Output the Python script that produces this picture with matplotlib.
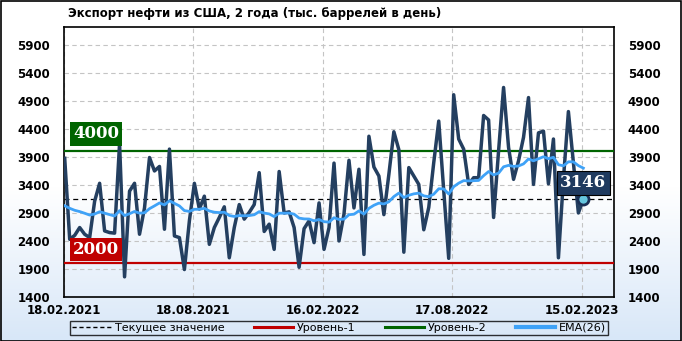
import matplotlib
matplotlib.use('Agg')
import matplotlib.pyplot as plt
import matplotlib.dates as mdates
from matplotlib.lines import Line2D
from matplotlib.patches import Rectangle
import numpy as np
import pandas as pd

# weekly US crude oil exports, thousand barrels per day
start_date = '2021-02-19'
exports = [3876, 2430, 2500, 2640, 2520, 2460, 3110, 3430, 2580, 2550,
           2540, 4140, 1760, 3290, 3430, 2520, 2990, 3890, 3650, 3730,
           2610, 4040, 2490, 2460, 1890, 2760, 3430, 2970, 3200, 2340,
           2640, 2820, 3010, 2100, 2640, 3050, 2790, 2910, 3050, 3620,
           2570, 2700, 2250, 3640, 2900, 2920, 2640, 1930, 2620, 2760,
           2370, 3080, 2250, 2640, 3790, 2400, 2880, 3840, 2990, 3680,
           2160, 4270, 3720, 3560, 2870, 3590, 4350, 4030, 2200, 3710,
           3560, 3410, 2600, 3000, 3800, 4540, 3300, 2090, 5010, 4220,
           4040, 3410, 3530, 3530, 4640, 4560, 2820, 4010, 5140, 4070,
           3500, 3830, 4250, 4960, 3410, 4330, 4360, 3420, 4220, 2100,
           3500, 4710, 3800, 2900, 3146]
ema_seed = 2960   # EMA value the week before the window
level1 = 2000
level2 = 4000
current = exports[-1]

title = 'Экспорт нефти из США, 2 года (тыс. баррелей в день)'
xtick_dates = ['2021-02-18', '2021-08-18', '2022-02-16', '2022-08-17', '2023-02-15']
yticks = list(range(1400, 6400, 500))

dates = pd.date_range(start_date, periods=len(exports), freq='7D')

# EMA(26)
alpha = 2 / 27
ema = []
prev = ema_seed
for v in exports:
    prev = prev + alpha * (v - prev)
    ema.append(prev)

W, H = 682, 341
fig = plt.figure(figsize=(W / 100, H / 100), dpi=100)

# gradient background
bg = fig.add_axes([0, 0, 1, 1], zorder=-10)
t = np.linspace(0, 1, 200)
k = np.clip((t - 0.55) / 0.45, 0, 1)
top = np.array([1.0, 1.0, 1.0])
bot = np.array([0xd8, 0xe7, 0xf8]) / 255
grad = top[None, :] * (1 - k[:, None]) + bot[None, :] * k[:, None]
bg.imshow(grad[:, None, :], aspect='auto', extent=[0, 1, 0, 1])
bg.set_axis_off()
fig.patches.append(Rectangle((0.5 / W, 0.5 / H), 1 - 1.5 / W, 1 - 1.5 / H,
                             transform=fig.transFigure, fill=False,
                             edgecolor='black', lw=1.2))

ax = fig.add_axes([64 / W, 1 - 297 / H, 550 / W, 270 / H])
ax.set_facecolor('none')

x0 = pd.Timestamp('2021-02-18')
ax.set_xlim(x0, x0 + pd.Timedelta(days=772))
ax.set_ylim(1400, 6220)

ax.axhline(level1, color='#c00000', lw=1.6, zorder=3)
ax.axhline(level2, color='#006400', lw=1.6, zorder=3)
ax.axhline(current, color='black', lw=0.9, ls=(0, (4, 3)), zorder=3)

ax.plot(dates, exports, color='#243f60', lw=2.5, zorder=4,
        solid_joinstyle='round')
ax.plot(dates, ema, color='#3fa2f7', lw=2.0, zorder=5)
ax.plot(dates[-1], current, 'o', ms=8, mfc='#66c6de', mec='#1a2f55',
        mew=2, zorder=6)

ax.set_yticks(yticks)
ax.set_xticks(pd.to_datetime(xtick_dates))
ax.xaxis.set_major_formatter(mdates.DateFormatter('%d.%m.%Y'))
ax.grid(True, color='#c4c4c4', ls=(0, (4, 3)), lw=0.8)
ax.set_axisbelow(True)
ax.tick_params(axis='y', length=0, labelleft=True, labelright=True,
               labelsize=8.5, pad=10)
ax.tick_params(axis='x', length=0, labelsize=8.5, pad=5)
for lab in ax.get_xticklabels() + ax.get_yticklabels():
    lab.set_fontweight('bold')
for tk in ax.yaxis.get_major_ticks():
    tk.label2.set_fontweight('bold')
for s in ax.spines.values():
    s.set_color('black')
    s.set_linewidth(1.2)

box_font = dict(family='DejaVu Serif', fontweight='bold', fontsize=12,
                color='white', zorder=7)
lx = pd.Timestamp('2021-04-04')
ax.text(lx, 4310, str(level2), ha='center', va='center',
        bbox=dict(boxstyle='square,pad=0.2', fc='#006400', ec='none'), **box_font)
ax.text(lx, 2250, str(level1), ha='center', va='center',
        bbox=dict(boxstyle='square,pad=0.2', fc='#c00000', ec='none'), **box_font)
ax.text(dates[-1], 3440, str(current), ha='center', va='center',
        bbox=dict(boxstyle='square,pad=0.2', fc='#1f3a5f', ec='black', lw=0.8),
        **box_font)

fig.text(68 / W, 1 - 14 / H, title, ha='left', va='center',
         fontsize=8.5, fontweight='bold')

handles = [Line2D([], [], color='black', lw=1, ls=(0, (3, 2))),
           Line2D([], [], color='#c00000', lw=2.2),
           Line2D([], [], color='#006400', lw=2.2),
           Line2D([], [], color='#3fa2f7', lw=3)]
labels = ['Текущее значение', 'Уровень-1', 'Уровень-2', 'EMA(26)']
leg = fig.legend(handles, labels, ncol=4, loc='center',
                 bbox_to_anchor=(64 / W, 1 - 337 / H, 550 / W, 18 / H),
                 mode='expand', fontsize=8, frameon=True, fancybox=False,
                 handlelength=3.5, handletextpad=0.4, borderpad=0.2,
                 columnspacing=1.0)
leg.get_frame().set_edgecolor('black')
leg.get_frame().set_facecolor('none')
leg.get_frame().set_linewidth(1.0)

fig.savefig('out.png', dpi=100)
